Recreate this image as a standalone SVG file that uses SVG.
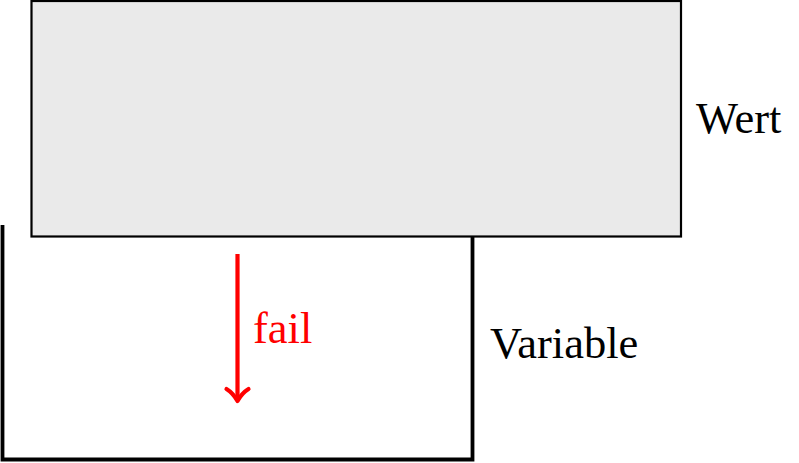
<svg xmlns="http://www.w3.org/2000/svg" width="799" height="463" viewBox="0 0 799 463">
<style>
.lbl{font-family:"Liberation Serif","DejaVu Serif",serif;font-size:44.5px;fill:#000}
.fail{fill:#ff0000}
</style>
<rect width="799" height="463" fill="#fff"/>
<g id="variable">
<path d="M2.5,225 V459.5 H472.5 V236" fill="none" stroke="#000" stroke-width="3.8"/>
<text class="lbl" x="490" y="358">Variable</text>
</g>
<g id="wert">
<rect x="31.5" y="1" width="649.5" height="235.5" fill="#eaeaea" stroke="#000" stroke-width="2.2"/>
<text class="lbl" x="696" y="133">Wert</text>
</g>
<g id="connectors">
<line x1="237.5" y1="254" x2="237.5" y2="399" stroke="#ff0000" stroke-width="4.2"/>
<path d="M226.5,389 Q233,393 237.5,401 Q242,393 248.5,389" fill="none" stroke="#ff0000" stroke-width="4.2" stroke-linecap="round" stroke-linejoin="round"/>
<text class="lbl fail" x="253" y="343">fail</text>
</g>
</svg>
